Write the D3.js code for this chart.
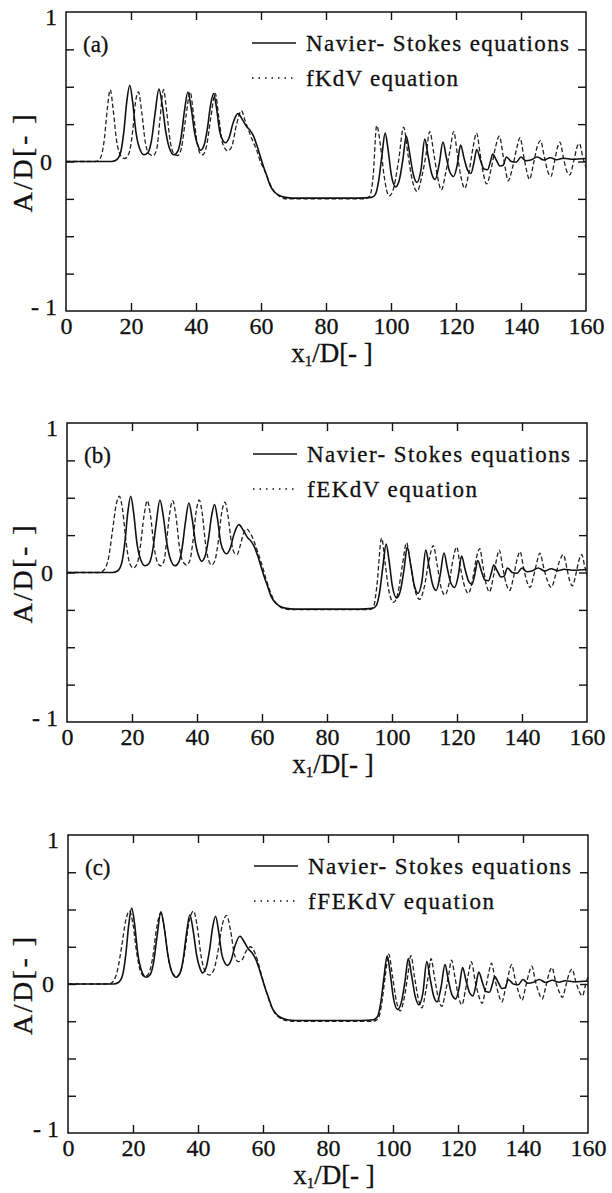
<!DOCTYPE html>
<html><head><meta charset="utf-8">
<script src="https://cdn.jsdelivr.net/npm/d3@7"></script>
<style>
html,body{margin:0;padding:0;background:#fff;}
svg{display:block;}
text{font-family:"Liberation Serif","Times New Roman",serif;fill:#111;stroke:#111;stroke-width:0.3px;}
</style></head>
<body>
<svg id="chart" width="612" height="1193"></svg>
<script>
// ---------- data ----------
const panelLabels = ["(a)", "(b)", "(c)"];
const seriesNames = ["Navier- Stokes equations", "fKdV equation", "fEKdV equation", "fFEKdV equation"];
const xTickValues = [0, 20, 40, 60, 80, 100, 120, 140, 160];
const yTickValues = [-1, -0.75, -0.5, -0.25, 0, 0.25, 0.5, 0.75, 1];
const yTickLabels = {"1": "1", "0": "0", "-1": "- 1"};

// Navier-Stokes (same in all three panels)
const nsData = [
[0,0],[14,0],[15.5,0.01],[16.8,0.06],[17.8,0.2],[18.7,0.4],[19.6,0.51],[20.5,0.4],[21.5,0.2],[22.6,0.09],[24,0.045],[25.2,0.06],[26.3,0.14],[27.4,0.32],[28.6,0.485],[29.6,0.38],[30.7,0.2],[31.8,0.09],[33.2,0.045],[34.4,0.07],[35.4,0.16],[36.4,0.33],[37.5,0.465],[38.5,0.36],[39.6,0.19],[40.7,0.1],[41.4,0.075],[42.5,0.11],[43.5,0.22],[44.5,0.38],[45.4,0.455],[46.3,0.36],[47.3,0.2],[48.3,0.14],[49.1,0.125],[50.2,0.16],[51.3,0.25],[52.9,0.32],[54.3,0.28],[55.5,0.235],[56.6,0.21],[57.7,0.17],[58.7,0.11],[59.7,0.04],[60.7,-0.03],[61.7,-0.09],[62.8,-0.16],[64,-0.2],[65.5,-0.225],[67.5,-0.24],[70,-0.245],[80,-0.245],[90,-0.245],[94,-0.24],[95.2,-0.22],[96.2,-0.13],[97.2,0.04],[98.2,0.19],[99.1,0.08],[100.1,-0.09],[101.4,-0.17],[102.6,-0.12],[103.7,0.02],[104.7,0.17],[105.7,0.06],[106.8,-0.08],[108,-0.14],[109.2,-0.06],[110.4,0.15],[111.4,0.04],[112.5,-0.08],[113.6,-0.12],[114.8,-0.02],[116,0.13],[117,0.03],[118.1,-0.07],[119.3,-0.1],[120.4,-0.02],[121.4,0.11],[122.5,0.02],[123.6,-0.06],[124.6,-0.08],[125.5,-0.01],[126.4,0.08],[127.5,0.01],[128.6,-0.05],[129.7,-0.055],[130.6,0.0],[131.3,0.05],[132.4,0.01],[133.5,-0.03],[134.5,-0.025],[135.5,0.03],[137,0.0],[138.5,-0.005],[140,0.03],[141.5,0.005],[143,0.01],[145,0.03],[147,0.01],[149,0.025],[151,0.012],[153,0.022],[156,0.015],[160,0.02]
];

// fKdV (panel a)
const fkdvData = [
[0,0],[9,0],[10.5,0.02],[11.8,0.15],[12.7,0.35],[13.6,0.48],[14.5,0.35],[15.5,0.15],[16.8,0.04],[18,0.02],[19.3,0.05],[20.5,0.2],[21.4,0.4],[22.3,0.465],[23.3,0.33],[24.4,0.13],[25.6,0.05],[26.8,0.04],[27.9,0.08],[28.9,0.28],[30,0.48],[31,0.33],[32.1,0.13],[33.3,0.05],[34.4,0.04],[35.5,0.09],[36.9,0.3],[38.2,0.465],[39.3,0.3],[40.4,0.12],[41.4,0.05],[42.1,0.045],[43.2,0.1],[44.6,0.3],[45.9,0.455],[47,0.3],[48.2,0.12],[49.8,0.07],[51,0.1],[52.5,0.25],[54,0.34],[55,0.28],[56,0.22],[57.2,0.15],[58.6,0.08],[59.8,0.0],[61.1,-0.06],[62.4,-0.13],[63.7,-0.19],[65.8,-0.235],[68,-0.25],[80,-0.25],[92,-0.25],[93.5,-0.23],[94.5,-0.1],[95.6,0.24],[96.8,0.1],[97.9,-0.1],[99.4,-0.23],[100.5,-0.2],[102.3,0.0],[103.9,0.23],[105.2,0.05],[106.5,-0.12],[108,-0.2],[109.5,-0.1],[110.8,0.05],[111.9,0.2],[113.2,0.05],[114.3,-0.1],[115.5,-0.19],[116.8,-0.08],[118.2,0.08],[119.3,0.2],[120.4,0.05],[121.5,-0.1],[122.7,-0.18],[124,-0.07],[125.3,0.1],[126.3,0.19],[127.5,0.04],[128.4,-0.08],[129.4,-0.15],[130.8,-0.05],[132.2,0.1],[133.3,0.17],[134.5,0.04],[135.3,-0.06],[136,-0.13],[137.5,-0.03],[138.8,0.1],[139.7,0.16],[140.8,0.04],[141.7,-0.06],[142.6,-0.12],[143.8,-0.02],[145,0.1],[146,0.14],[147.2,0.03],[148.3,-0.07],[149.2,-0.1],[150.3,0.0],[151.3,0.1],[152,0.13],[153,0.03],[154,-0.06],[155,-0.09],[156.2,0.0],[157.3,0.1],[158,0.12],[159,0.03],[160,-0.04]
];

// fEKdV (panel b)
const fekdvData = [
[0,0],[10,0],[11.5,0.02],[12.8,0.1],[14,0.28],[15.1,0.45],[16.1,0.51],[17.1,0.42],[18.2,0.2],[19.3,0.06],[20.4,0.03],[21.6,0.06],[22.6,0.18],[23.7,0.38],[24.7,0.48],[25.7,0.38],[26.8,0.17],[27.8,0.07],[28.8,0.045],[29.9,0.08],[30.6,0.2],[31.5,0.38],[32.5,0.48],[33.5,0.38],[34.6,0.17],[35.7,0.07],[36.8,0.05],[37.8,0.08],[38.7,0.2],[39.7,0.4],[40.7,0.485],[41.7,0.38],[42.7,0.18],[43.6,0.08],[44.5,0.05],[45.5,0.08],[46.5,0.2],[47.6,0.4],[48.6,0.47],[49.6,0.37],[50.6,0.2],[51.5,0.13],[52.3,0.12],[53.3,0.18],[54.3,0.26],[55.3,0.29],[56.5,0.26],[57.7,0.2],[58.8,0.13],[60,0.05],[61.2,-0.04],[62.4,-0.12],[63.6,-0.18],[65,-0.22],[66.5,-0.24],[69,-0.248],[80,-0.248],[93,-0.248],[94.3,-0.23],[95.3,-0.1],[96.8,0.23],[97.9,0.06],[99,-0.12],[100.5,-0.2],[101.8,-0.14],[103.2,0.05],[104.5,0.2],[105.7,0.05],[107.1,-0.12],[108.5,-0.18],[109.9,-0.1],[111.3,0.07],[112.7,0.18],[113.9,0.05],[115.1,-0.1],[116.3,-0.15],[117.6,-0.07],[118.8,0.09],[119.9,0.17],[121,0.04],[122.3,-0.09],[123.5,-0.14],[124.7,-0.06],[125.9,0.09],[127,0.16],[128,0.04],[129,-0.08],[130,-0.13],[131,-0.05],[132.1,0.08],[133,0.15],[134.1,0.03],[135.2,-0.08],[136.2,-0.12],[137.3,-0.04],[138.4,0.08],[139.4,0.14],[140.5,0.03],[141.5,-0.06],[142.5,-0.1],[143.5,-0.03],[144.6,0.07],[145.5,0.13],[146.7,0.03],[147.9,-0.06],[149,-0.1],[150.3,-0.02],[151.6,0.08],[152.7,0.12],[153.8,0.03],[154.6,-0.05],[155.5,-0.09],[156.5,-0.02],[157.5,0.08],[158.4,0.12],[159.3,0.04],[160,-0.02]
];

// fFEKdV (panel c)
const ffekdvData = [
[0,0],[12.5,0],[14,0.02],[15.3,0.1],[16.5,0.25],[17.8,0.43],[18.9,0.49],[20,0.4],[21.2,0.2],[22.4,0.08],[23.6,0.05],[24.8,0.07],[26,0.17],[27.3,0.38],[28.5,0.475],[29.6,0.38],[30.8,0.18],[32,0.08],[33.3,0.05],[34.6,0.08],[35.8,0.2],[37.3,0.42],[38.6,0.49],[39.8,0.38],[41,0.18],[42.3,0.08],[43.5,0.06],[44.8,0.09],[46,0.2],[47.5,0.4],[48.8,0.46],[50,0.36],[51.2,0.2],[52.4,0.15],[53.5,0.16],[54.8,0.22],[56.2,0.25],[57.5,0.21],[58.7,0.13],[59.9,0.03],[61,-0.05],[62.2,-0.13],[63.5,-0.19],[65,-0.225],[67,-0.245],[70,-0.25],[80,-0.25],[94,-0.25],[95.5,-0.23],[96.6,-0.12],[97.6,0.05],[98.7,0.2],[99.8,0.06],[101,-0.11],[102.2,-0.18],[103.4,-0.1],[104.5,0.05],[105.5,0.19],[106.6,0.05],[107.8,-0.1],[108.9,-0.16],[110,-0.06],[110.9,0.06],[111.7,0.17],[112.8,0.04],[114,-0.1],[115,-0.15],[116.2,-0.05],[117.2,0.07],[118,0.16],[119.1,0.04],[120.2,-0.09],[121.2,-0.14],[122.3,-0.04],[123.3,0.08],[124.1,0.15],[125.2,0.03],[126.4,-0.08],[127.4,-0.13],[128.5,-0.03],[129.5,0.08],[130.3,0.14],[131.4,0.03],[132.5,-0.07],[133.5,-0.12],[134.6,-0.03],[135.6,0.07],[136.5,0.13],[137.6,0.03],[138.7,-0.06],[139.7,-0.11],[140.8,-0.02],[141.8,0.07],[142.7,0.12],[143.8,0.02],[144.9,-0.06],[145.9,-0.1],[147,-0.02],[148,0.07],[148.9,0.11],[150,0.02],[151.1,-0.05],[152.1,-0.09],[153.2,-0.01],[154.2,0.07],[155.1,0.1],[156.2,0.02],[157.3,-0.05],[158.3,-0.08],[159.3,0.0],[160,0.05]
];

const modelData = [fkdvData, fekdvData, ffekdvData];
const modelNames = [seriesNames[1], seriesNames[2], seriesNames[3]];

// ---------- drawing ----------
const svg = d3.select("#chart");
const boxes = [
  {left: 66, right: 586, top: 12, bottom: 311},
  {left: 67, right: 587, top: 423, bottom: 722},
  {left: 68, right: 588, top: 835, bottom: 1133}
];
const legendWidths = [152, 170, 186];

boxes.forEach((b, i) => {
  const x = d3.scaleLinear().domain([0, 160]).range([b.left, b.right]);
  const y = d3.scaleLinear().domain([-1, 1]).range([b.bottom, b.top]);
  const g = svg.append("g");

  const clipId = "clip" + i;
  svg.append("clipPath").attr("id", clipId).append("rect")
    .attr("x", b.left).attr("y", b.top)
    .attr("width", b.right - b.left).attr("height", b.bottom - b.top);

  // axes (inward ticks)
  const axB = d3.axisBottom(x).tickValues(xTickValues).tickSize(-8).tickPadding(6);
  const axT = d3.axisTop(x).tickValues(xTickValues).tickSize(-8).tickFormat("");
  const axL = d3.axisLeft(y).tickValues(yTickValues).tickSize(-8).tickPadding(9)
    .tickFormat(d => yTickLabels[String(d)] || "");
  const axR = d3.axisRight(y).tickValues(yTickValues).tickSize(-8).tickFormat("");

  const gB = g.append("g").attr("transform", `translate(0,${b.bottom})`).call(axB);
  const gT = g.append("g").attr("transform", `translate(0,${b.top})`).call(axT);
  const gL = g.append("g").attr("transform", `translate(${b.left},0)`).call(axL);
  const gR = g.append("g").attr("transform", `translate(${b.right},0)`).call(axR);
  [gB, gT, gL, gR].forEach(a => {
    a.select(".domain").remove();
    a.selectAll(".tick line").attr("stroke", "#111").attr("stroke-width", 1.4);
    a.selectAll("text").style("font-family", '"Liberation Serif",serif')
      .style("font-size", "24px").attr("fill", "#111");
  });
  gB.selectAll(".tick").filter(d => d === 0 || d === 160).select("line").remove();
  gL.selectAll(".tick").filter(d => d === 1 || d === -1).select("line").remove();
  gR.selectAll(".tick").filter(d => d === 1 || d === -1).select("line").remove();
  gT.selectAll(".tick").filter(d => d === 0 || d === 160).select("line").remove();
  gL.selectAll(".tick").filter(d => d === 1).select("text").attr("dy", "0.5em");
  gL.selectAll(".tick").filter(d => d === -1).select("text").attr("dy", "0.15em");
  gL.selectAll(".tick").filter(d => d === 0).select("text").attr("dx", "-5");

  // frame
  g.append("rect").attr("x", b.left).attr("y", b.top)
    .attr("width", b.right - b.left).attr("height", b.bottom - b.top)
    .attr("fill", "none").attr("stroke", "#111").attr("stroke-width", 1.5);

  const line = d3.line().x(d => x(d[0])).y(d => y(d[1])).curve(d3.curveMonotoneX);

  g.append("path").datum(modelData[i]).attr("clip-path", `url(#${clipId})`)
    .attr("d", line).attr("fill", "none").attr("stroke", "#222")
    .attr("stroke-width", 1.3).attr("stroke-dasharray", "4.5,2.5");
  g.append("path").datum(nsData).attr("clip-path", `url(#${clipId})`)
    .attr("d", line).attr("fill", "none").attr("stroke", "#111")
    .attr("stroke-width", 1.6);

  // panel label
  g.append("text").attr("x", b.left + 17).attr("y", b.top + 32).attr("dy", "0.35em")
    .style("font-size", "23px").text(panelLabels[i]);

  // legend
  const lx0 = b.left + 186, lx1 = b.left + 230, tx = b.left + 240;
  g.append("line").attr("x1", lx0).attr("x2", lx1).attr("y1", b.top + 31).attr("y2", b.top + 31)
    .attr("stroke", "#111").attr("stroke-width", 1.5);
  g.append("text").attr("x", tx).attr("y", b.top + 31).attr("dy", "0.35em")
    .style("font-size", "23px").attr("textLength", 263).attr("lengthAdjust", "spacing")
    .text(seriesNames[0]);
  g.append("line").attr("x1", lx0).attr("x2", lx1).attr("y1", b.top + 66).attr("y2", b.top + 66)
    .attr("stroke", "#111").attr("stroke-width", 1.4).attr("stroke-dasharray", "1.5,5");
  g.append("text").attr("x", tx).attr("y", b.top + 66).attr("dy", "0.35em")
    .style("font-size", "23px").attr("textLength", legendWidths[i]).attr("lengthAdjust", "spacing")
    .text(modelNames[i]);

  // y title
  const cy = (b.top + b.bottom) / 2 + 2;
  g.append("text").attr("transform", `translate(22,${cy}) rotate(-90)`)
    .attr("text-anchor", "middle").attr("dy", "0.35em")
    .style("font-size", "28px").attr("textLength", 98).attr("lengthAdjust", "spacing")
    .text("A/D[- ]");

  // x title
  const xt = g.append("text").attr("x", (b.left + b.right) / 2 + 6).attr("y", b.bottom + 42)
    .attr("text-anchor", "middle").attr("dy", "0.35em").style("font-size", "27px");
  xt.append("tspan").text("x");
  xt.append("tspan").attr("dy", "0.25em").style("font-size", "15px").text("1");
  xt.append("tspan").attr("dy", "-0.15em").text("/D[- ]");
});
</script>
</body></html>
